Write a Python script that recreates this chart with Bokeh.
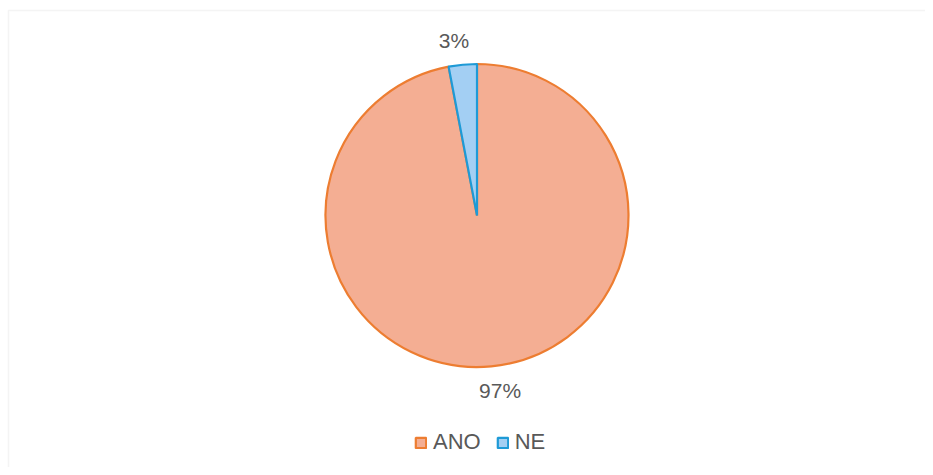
from bokeh.plotting import figure
from bokeh.models import Range1d, ColumnDataSource, Legend, LegendItem, BoxAnnotation
from bokeh.embed import file_html
from bokeh.resources import INLINE
import numpy as np

categories = ["ANO", "NE"]
shares = [97, 3]
labels = ["97%", "3%"]
fills = ["#F4AE93", "#A3CFF3"]
lines = ["#ED7D31", "#1E9AD6"]

W, H = 925, 467
p = figure(width=W, height=H, output_backend="svg", toolbar_location=None,
           x_range=Range1d(0, W), y_range=Range1d(0, H), min_border=0)
p.axis.visible = False
p.grid.visible = False
p.outline_line_color = None
p.background_fill_color = "white"
p.border_fill_color = "white"

cx, cy, r = 476.5, 252, 151.5
frac = np.array(shares) / sum(shares)
cum = np.concatenate([[0], np.cumsum(frac)])
start = np.pi / 2 - cum[:-1] * 2 * np.pi
end = np.pi / 2 - cum[1:] * 2 * np.pi
mid = (start + end) / 2

rends = []
for i in range(len(categories)):
    rr = p.wedge(x=cx, y=cy, radius=r, start_angle=start[i], end_angle=end[i], direction="clock",
                 fill_color=fills[i], line_color=lines[i], line_width=2.2)
    rends.append(rr)

# labels placed outside each slice (outside end)
lr = r + 24
lx = [cx + lr * np.cos(m) * 1.4 for m in mid]
ly = [cy + lr * np.sin(m) for m in mid]
lsrc = ColumnDataSource(dict(x=lx, y=ly, t=labels))
p.text(x="x", y="y", text="t", source=lsrc, text_align="center", text_baseline="middle",
       text_font_size="21px", text_color="#595959", text_font={"value": "Liberation Sans"})

legend = Legend(items=[LegendItem(label=c, renderers=[rends[i]]) for i, c in enumerate(categories)],
                orientation="horizontal", location=(414, 12), glyph_width=13, glyph_height=13,
                label_text_font_size="22px", label_text_color="#595959",
                label_text_font="Liberation Sans", label_standoff=6, spacing=15,
                border_line_color=None, background_fill_alpha=0, padding=0, margin=0)
p.add_layout(legend)

# chart area border (left & top visible; right & bottom fall outside the window)
p.add_layout(BoxAnnotation(left=8, right=W + 50, top=H - 10, bottom=-50,
                           fill_alpha=0, line_color="#D9D9D9", line_width=1.5))

open("out.html", "w").write(file_html(p, INLINE))
